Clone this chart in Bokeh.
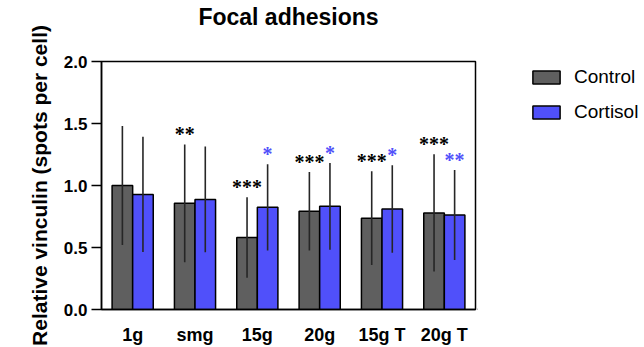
from bokeh.plotting import figure
from bokeh.layouts import row
from bokeh.models import ColumnDataSource, FactorRange, Legend, LegendItem, Range1d, NumeralTickFormatter, Title
from bokeh.transform import dodge
from bokeh.embed import file_html
from bokeh.resources import INLINE

categories = ["1g", "smg", "15g", "20g", "15g T", "20g T"]
control_mean = [1.00, 0.856, 0.581, 0.792, 0.736, 0.779]
control_sd = [0.48, 0.475, 0.325, 0.317, 0.378, 0.473]
cortisol_mean = [0.928, 0.888, 0.824, 0.832, 0.811, 0.763]
cortisol_sd = [0.465, 0.427, 0.348, 0.350, 0.353, 0.363]
control_stars = ["", "**", "***", "***", "***", "***"]
cortisol_stars = ["", "", "*", "*", "*", "**"]
y_ticks = [0.0, 0.5, 1.0, 1.5, 2.0]
series_names = ["Control", "Cortisol"]

CTRL = "#5f5f5f"
CORT = "#5050fa"
FONT = "Liberation Sans"

src = ColumnDataSource(dict(
    cat=categories,
    cm=control_mean,
    cl=[m - s for m, s in zip(control_mean, control_sd)],
    cu=[m + s for m, s in zip(control_mean, control_sd)],
    tm=cortisol_mean,
    tl=[m - s for m, s in zip(cortisol_mean, cortisol_sd)],
    tu=[m + s for m, s in zip(cortisol_mean, cortisol_sd)],
    cs=control_stars,
    ts=cortisol_stars,
))

p = figure(width=477, height=347, x_range=FactorRange(factors=categories),
           y_range=Range1d(0, 2.0), output_backend="svg", toolbar_location=None,
           min_border_left=101, min_border_right=2, min_border_top=61, min_border_bottom=36)

off = 0.165
w = 0.33
p.vbar(x=dodge("cat", -off, range=p.x_range), top="cm", width=w, source=src,
       fill_color=CTRL, line_color="black", line_width=1.5)
p.vbar(x=dodge("cat", off, range=p.x_range), top="tm", width=w, source=src,
       fill_color=CORT, line_color="black", line_width=1.5)
p.segment(x0=dodge("cat", -off, range=p.x_range), x1=dodge("cat", -off, range=p.x_range),
          y0="cl", y1="cu", source=src, line_color="#262626", line_width=1.6)
p.segment(x0=dodge("cat", off, range=p.x_range), x1=dodge("cat", off, range=p.x_range),
          y0="tl", y1="tu", source=src, line_color="#262626", line_width=1.6)
p.text(x=dodge("cat", -off, range=p.x_range), y="cu", text="cs", source=src,
       text_align="center", text_baseline="alphabetic", y_offset=-10,
       text_font_size="20px", text_font_style="bold", text_color="black", text_font=FONT)
p.text(x=dodge("cat", off, range=p.x_range), y="tu", text="ts", source=src,
       text_align="center", text_baseline="alphabetic", y_offset=-10,
       text_font_size="20px", text_font_style="bold", text_color=CORT, text_font=FONT)

p.title.text = "Focal adhesions"
p.title.align = "center"
p.title.text_font = FONT
p.title.text_font_size = "23px"
p.title.text_font_style = "bold"
p.title.text_color = "black"
p.title.standoff = 0
p.add_layout(Title(text=" ", text_font_size="26px", standoff=0), "above")

p.xgrid.visible = False
p.ygrid.visible = False
p.outline_line_color = "black"
p.outline_line_width = 1.5

p.yaxis.ticker = y_ticks
p.yaxis.formatter = NumeralTickFormatter(format="0.0")
p.yaxis.axis_label = "Relative vinculin (spots per cell)"
p.yaxis.axis_label_text_font = FONT
p.yaxis.axis_label_text_font_size = "21px"
p.yaxis.axis_label_text_font_style = "bold"
p.yaxis.axis_label_standoff = 10
p.yaxis.major_label_text_font = FONT
p.yaxis.major_label_text_font_size = "17px"
p.yaxis.major_label_text_font_style = "bold"
p.yaxis.major_label_standoff = 4
p.yaxis.major_tick_out = 10
p.yaxis.major_tick_in = 0
p.yaxis.minor_tick_out = 0
p.yaxis.minor_tick_in = 0
p.yaxis.major_tick_line_width = 1.5
p.yaxis.axis_line_width = 1.5

p.xaxis.major_tick_out = 0
p.xaxis.major_tick_in = 0
p.xaxis.axis_line_width = 1.5
p.xaxis.major_label_text_font = FONT
p.xaxis.major_label_text_font_size = "18px"
p.xaxis.major_label_text_font_style = "bold"
p.xaxis.major_label_standoff = 15
for ax in (p.xaxis, p.yaxis):
    ax.major_label_text_color = "black"
    ax.axis_label_text_color = "black"
    ax.axis_line_color = "black"
    ax.major_tick_line_color = "black"

# legend panel
q = figure(width=167, height=347, x_axis_type=None, y_axis_type=None,
           x_range=Range1d(0, 1), y_range=Range1d(0, 1),
           output_backend="svg", toolbar_location=None,
           min_border_left=0, min_border_right=0, min_border_top=61, min_border_bottom=36)
q.outline_line_color = None
q.xgrid.visible = False
q.ygrid.visible = False
lr1 = q.vbar(x=[-10], top=[0], width=0.1, fill_color=CTRL, line_color="black", line_width=1.5)
lr2 = q.vbar(x=[-10], top=[0], width=0.1, fill_color=CORT, line_color="black", line_width=1.5)
legend = Legend(items=[LegendItem(label=series_names[0], renderers=[lr1]),
                       LegendItem(label=series_names[1], renderers=[lr2])],
                location=(52, 186), padding=0, margin=0, spacing=13,
                glyph_width=34, glyph_height=16, label_height=20, label_standoff=11,
                label_text_font=FONT, label_text_font_size="19px", label_text_color="black",
                border_line_color=None, background_fill_alpha=0)
q.add_layout(legend, "center")

layout = row(p, q)
open("out.html", "w").write(file_html(layout, INLINE))
